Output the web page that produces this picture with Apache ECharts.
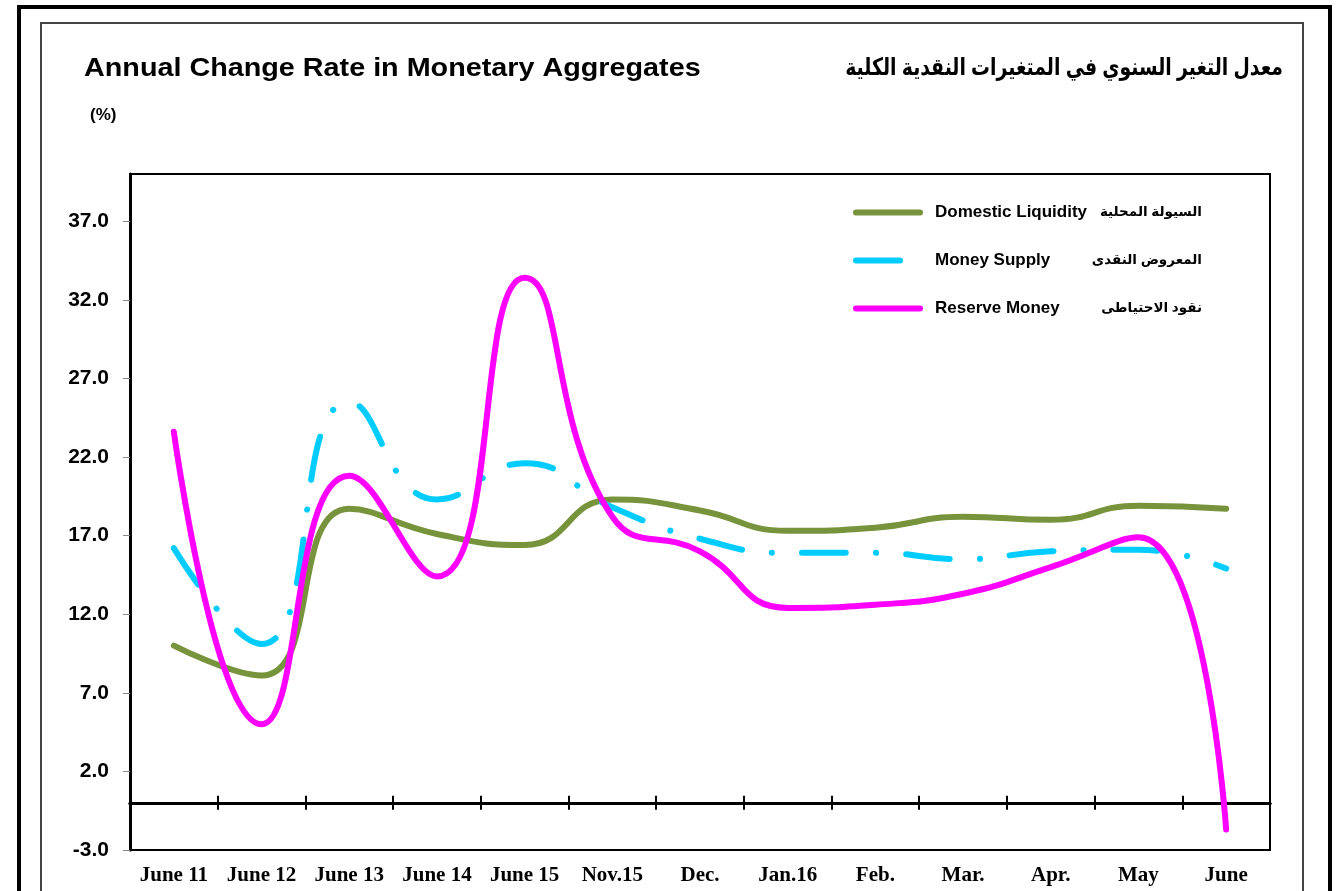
<!DOCTYPE html>
<html>
<head>
<meta charset="utf-8">
<script src="https://cdn.jsdelivr.net/npm/echarts@6/dist/echarts.min.js"></script>
<style>
html,body{margin:0;padding:0;background:#fff;}
#chart{width:1341px;height:891px;}
</style>
</head>
<body>
<div id="chart"></div>
<script>
const categories = ['June 11','June 12','June 13','June 14','June 15','Nov.15','Dec.','Jan.16','Feb.','Mar.','Apr.','May','June'];
const domesticLiquidity = [10.0, 8.1, 18.7, 17.1, 16.4, 19.3, 18.6, 17.3, 17.5, 18.2, 18.0, 18.9, 18.7];
const moneySupply = [16.2, 10.1, 25.5, 19.3, 21.6, 18.8, 16.8, 15.9, 15.9, 15.5, 16.0, 16.1, 14.9];
const reserveMoney = [23.6, 5.0, 20.8, 14.4, 33.4, 18.2, 16.0, 12.4, 12.6, 13.3, 15.0, 16.9, -1.7];
const yTicks = [-3, 2, 7, 12, 17, 22, 27, 32, 37];
const seriesNames = ['Domestic Liquidity', 'Money Supply', 'Reserve Money'];
const seriesNamesAr = ['السيولة المحلية', 'المعروض النقدى', 'نقود الاحتياطى'];
const titleEn = 'Annual Change Rate in Monetary Aggregates';
const titleAr = 'معدل التغير السنوي في المتغيرات النقدية الكلية';
const unitLabel = '(%)';

const SANS = '"Liberation Sans", Arial, "DejaVu Sans", sans-serif';
const SERIF = '"Liberation Serif", "Times New Roman", serif';

const chart = echarts.init(document.getElementById('chart'), null, {renderer: 'canvas'});

const arMap = {};
seriesNames.forEach((n, i) => arMap[n] = seriesNamesAr[i]);

const catAxisBase = {type: 'category', data: categories, gridIndex: 0};

const option = {
  animation: false,
  backgroundColor: '#fff',
  grid: {left: 130, right: 71, top: 174, bottom: 41, show: true, borderColor: '#000', borderWidth: 2, backgroundColor: 'transparent'},
  graphic: [
    {type: 'rect', shape: {x: 19, y: 7, width: 1311, height: 900}, style: {fill: 'none', stroke: '#000', lineWidth: 4}, silent: true, z: 100},
    {type: 'rect', shape: {x: 41, y: 23, width: 1262, height: 900}, style: {fill: 'none', stroke: '#444', lineWidth: 2}, silent: true, z: 100},
    {type: 'text', x: 84, y: 69, scaleX: 1.15, style: {text: titleEn, font: 'bold 25px ' + SANS, fill: '#000', textVerticalAlign: 'middle'}, z: 100},
    {type: 'text', x: 1283, y: 68, scaleX: 0.785, style: {text: titleAr, font: 'bold 24px ' + SANS, fill: '#000', textAlign: 'right', textVerticalAlign: 'middle'}, z: 100},
    {type: 'text', x: 90, y: 115, style: {text: unitLabel, font: 'bold 17px ' + SANS, fill: '#000', textVerticalAlign: 'middle'}, z: 100}
  ],
  legend: {
    orient: 'vertical',
    left: 848,
    top: 199,
    itemGap: 31,
    itemWidth: 64,
    itemHeight: 14,
    data: seriesNames,
    itemStyle: {opacity: 0},
    lineStyle: {width: 6, cap: 'round'},
    formatter: name => '{sp|}{en|' + name + '}{ar|' + arMap[name] + '}',
    textStyle: {
      rich: {
        sp: {width: 10},
        en: {width: 170, fontFamily: SANS, fontWeight: 'bold', fontSize: 17, color: '#000'},
        ar: {width: 97, align: 'right', fontFamily: SANS, fontWeight: 'bold', fontSize: 13.5, color: '#000'}
      }
    }
  },
  xAxis: [
    Object.assign({}, catAxisBase, {
      position: 'bottom',
      axisLine: {onZero: false, show: true, lineStyle: {color: '#000', width: 2}},
      axisTick: {show: false},
      axisLabel: {show: true, interval: 0, margin: 15, color: '#000', fontFamily: SERIF, fontWeight: 'bold', fontSize: 21},
      splitLine: {show: false}
    }),
    Object.assign({}, catAxisBase, {
      position: 'bottom',
      axisLine: {onZero: true, onZeroAxisIndex: 0, show: true, lineStyle: {color: '#000', width: 3}},
      axisTick: {show: true, length: 7, inside: false, lineStyle: {color: '#000', width: 2}},
      axisLabel: {show: false},
      splitLine: {show: false}
    }),
    Object.assign({}, catAxisBase, {
      position: 'bottom',
      axisLine: {onZero: true, onZeroAxisIndex: 0, show: true, lineStyle: {color: '#000', width: 3}},
      axisTick: {show: true, length: 7, inside: true, lineStyle: {color: '#000', width: 2}},
      axisLabel: {show: false},
      splitLine: {show: false}
    })
  ],
  yAxis: {
    type: 'value',
    min: -3,
    max: 40,
    interval: 5,
    axisLine: {show: true, lineStyle: {color: '#000', width: 3}},
    axisTick: {show: true, length: 7, customValues: yTicks, lineStyle: {color: '#888', width: 1}},
    axisLabel: {customValues: yTicks, margin: 21, color: '#000', fontFamily: SANS, fontWeight: 'bold', fontSize: 21, formatter: v => Number(v).toFixed(1)},
    splitLine: {show: false}
  },
  series: [
    {
      name: seriesNames[0], type: 'line', xAxisIndex: 0, data: domesticLiquidity, smooth: 0.5,
      symbol: 'none', z: 5, color: '#77933c',
      lineStyle: {color: '#77933c', width: 6, cap: 'round', join: 'round'}
    },
    {
      name: seriesNames[1], type: 'line', xAxisIndex: 0, data: moneySupply, smooth: 0.5,
      symbol: 'none', z: 6, color: '#00ccff',
      lineStyle: {color: '#00ccff', width: 6, cap: 'round', join: 'round', type: [44, 30, 0.1, 30]}
    },
    {
      name: seriesNames[2], type: 'line', xAxisIndex: 0, data: reserveMoney, smooth: 0.5,
      symbol: 'none', z: 7, color: '#ff00ff',
      lineStyle: {color: '#ff00ff', width: 6, cap: 'round', join: 'round'}
    }
  ]
};
chart.setOption(option);
</script>
</body>
</html>
